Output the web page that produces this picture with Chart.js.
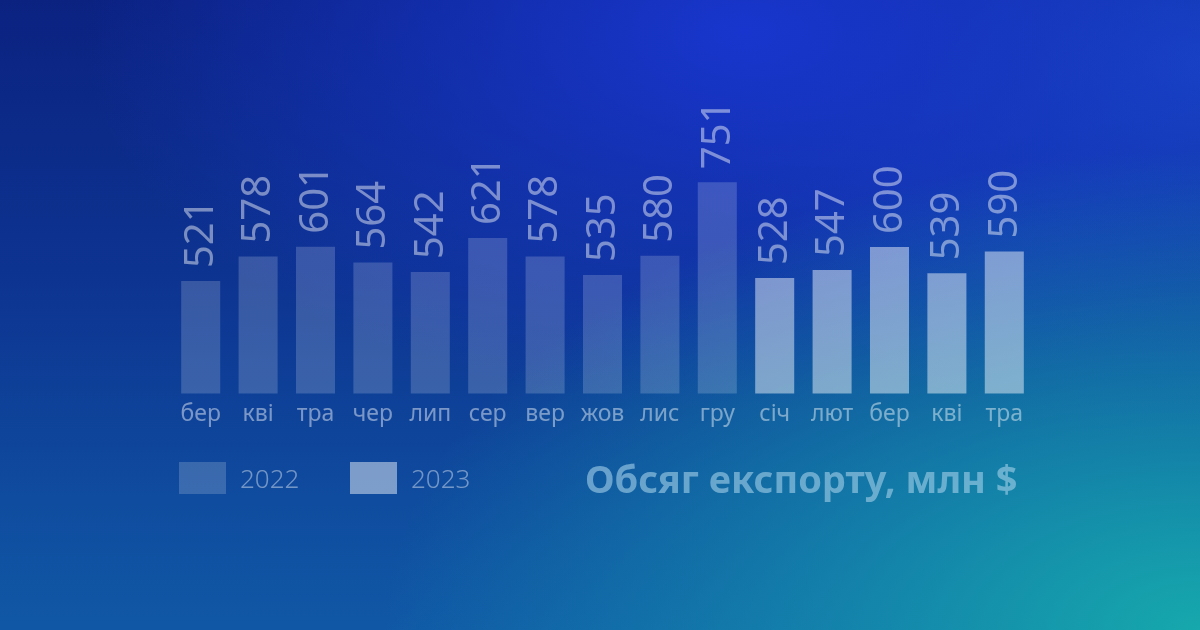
<!DOCTYPE html>
<html>
<head>
<meta charset="utf-8">
<script src="https://cdn.jsdelivr.net/npm/chart.js@4"></script>
<style>
html,body{margin:0;padding:0;}
body{width:1200px;height:630px;overflow:hidden;position:relative;
background:
 radial-gradient(ellipse 85% 95% at 100% 100%, rgba(22,168,172,1) 0%, rgba(22,160,175,0.6) 35%, rgba(22,150,180,0) 80%),
 radial-gradient(ellipse 55% 60% at 62% 5%, rgba(24,54,205,1) 0%, rgba(24,54,205,0) 100%),
 radial-gradient(ellipse 45% 60% at 100% 10%, rgba(24,72,200,0.9) 0%, rgba(24,72,200,0) 100%),
 linear-gradient(180deg, #0b2281 0%, #0d3491 45%, #0f4c9f 80%, #1058a6 100%);
font-family:"Noto Sans",sans-serif;}
#c{position:absolute;left:0;top:0;}
.leg{position:absolute;top:462px;height:32px;display:flex;align-items:center;}
.box{width:47px;height:32px;}
.lt{font-size:26px;font-weight:300;color:rgba(255,255,255,0.42);margin-left:14px;line-height:32px;}
#title{position:absolute;left:585px;top:453px;font-size:38px;font-weight:700;color:rgba(160,205,230,0.62);white-space:nowrap;line-height:50px;}
</style>
</head>
<body>
<canvas id="c" width="1200" height="630"></canvas>
<div class="leg" style="left:179px"><div class="box" id="b1"></div><div class="lt" id="l1"></div></div>
<div class="leg" style="left:350px"><div class="box" id="b2"></div><div class="lt" id="l2"></div></div>
<div id="title">Обсяг експорту, млн $</div>
<script>
const categories = ["бер","кві","тра","чер","лип","сер","вер","жов","лис","гру","січ","лют","бер","кві","тра"];
const series2022 = [521,578,601,564,542,621,578,535,580,751,null,null,null,null,null];
const series2023 = [null,null,null,null,null,null,null,null,null,null,528,547,600,539,590];
const seriesNames = ["2022","2023"];
const color2022 = "rgba(255,255,255,0.18)";
const color2023 = "rgba(255,255,255,0.46)";

document.getElementById('b1').style.background = color2022;
document.getElementById('b2').style.background = color2023;
document.getElementById('l1').textContent = seriesNames[0];
document.getElementById('l2').textContent = seriesNames[1];

const valueLabels = {
  id: 'valueLabels',
  afterDatasetsDraw(chart) {
    const ctx = chart.ctx;
    chart.data.datasets.forEach((ds, i) => {
      const meta = chart.getDatasetMeta(i);
      meta.data.forEach((el, j) => {
        const v = ds.data[j];
        if (v === null || v === undefined) return;
        ctx.save();
        ctx.translate(el.x, el.y - 13);
        ctx.rotate(-Math.PI / 2);
        ctx.font = '400 40px "Noto Sans"';
        ctx.fillStyle = 'rgba(255,255,255,0.45)';
        ctx.textAlign = 'left';
        ctx.textBaseline = 'middle';
        ctx.fillText(String(v), 0, 1);
        ctx.restore();
      });
    });
  }
};

new Chart(document.getElementById('c'), {
  type: 'bar',
  data: {
    labels: categories,
    datasets: [
      {label: seriesNames[0], data: series2022, backgroundColor: color2022, borderWidth: 0},
      {label: seriesNames[1], data: series2023, backgroundColor: color2023, borderWidth: 0}
    ]
  },
  options: {
    responsive: false,
    animation: false,
    layout: {padding: {left: 172, right: 167, top: 75, bottom: 195}},
    datasets: {bar: {grouped: false, categoryPercentage: 1, barPercentage: 0.68}},
    plugins: {legend: {display: false}, tooltip: {enabled: false}},
    scales: {
      x: {
        grid: {display: false, drawTicks: false},
        border: {display: false},
        ticks: {color: 'rgba(255,255,255,0.45)', font: {family: 'Noto Sans', size: 23}, padding: 7, maxRotation: 0, autoSkip: false}
      },
      y: {display: false, min: 260, max: 1000}
    }
  },
  plugins: [valueLabels]
});
</script>
</body>
</html>
